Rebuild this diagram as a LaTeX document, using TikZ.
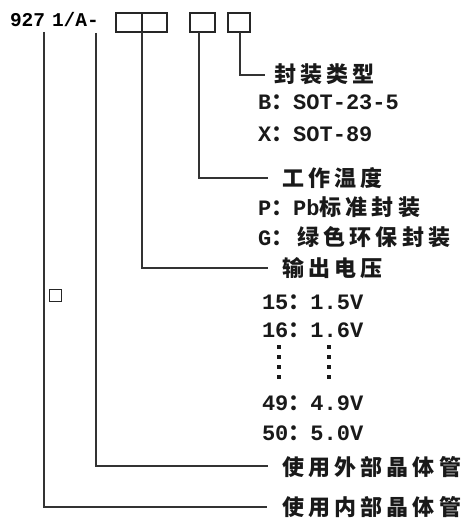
\documentclass[tikz,border=0pt]{standalone}
\usepackage{fontspec}
\setmainfont{Liberation Mono}
\newfontfamily\cjk{Noto Sans CJK SC}[LetterSpace=19]
\newcommand{\lat}{\fontsize{22}{24}\selectfont\bfseries}
\newcommand{\zh}[1]{{\cjk\fontsize{22}{24}\selectfont\bfseries #1}}
\begin{document}
\begin{tikzpicture}[x=1pt,y=-1pt,
  every node/.style={inner sep=0pt, outer sep=0pt},
  box/.style={draw=black!85, line width=1.2pt, minimum height=19pt},
  lab/.style={anchor=base west, text=black!90, font=\lat},
  conn/.style={draw=black!80, line width=1.3pt},
  dotc/.style={fill=black!90, rectangle, minimum size=3.6pt}]
\useasboundingbox (0,0) rectangle (467,521);
% header
\node[anchor=base west, font=\fontsize{19.5}{22}\selectfont\bfseries] (h1) at (10,27) {927};
\node[anchor=base west, font=\fontsize{19.5}{22}\selectfont\bfseries] (h2) at (52,27) {1/A-};
\node[box, minimum width=25.5pt] (b1) at (128.8,22.5) {};
\node[box, minimum width=24.5pt] (b2) at (154.8,22.5) {};
\node[box, minimum width=25pt] (b3) at (202.5,22.5) {};
\node[box, minimum width=22pt] (b4) at (239,22.5) {};
\node[box, minimum width=12pt, minimum height=12pt, line width=1pt] (sq) at (55.5,295.5) {};
% tops of connectors
\coordinate (t1) at (44,32);
\coordinate (t2) at (96,33);
\coordinate (t3) at (142,32);
\coordinate (t4) at (199,32);
\coordinate (t5) at (240,32);
% ends of connectors
\coordinate (e5) at (265,75);
\coordinate (e4) at (268,178);
\coordinate (e3) at (268,268);
\coordinate (e2) at (268,466);
\coordinate (e1) at (267,507);
\draw[conn] (t5) |- (e5);
\draw[conn] (t4) |- (e4);
\draw[conn] (t3) |- (e3);
\draw[conn] (t2) |- (e2);
\draw[conn] (t1) |- (e1);
% labels
\node[lab] (l1) at (274,83) {\zh{封装类型}};
\node[lab] (l2) at (258,110) {B\zh{：}SOT-23-5};
\node[lab] (l3) at (258,142) {X\zh{：}SOT-89};
\node[lab] (l4) at (282,186) {\zh{工作温度}};
\node[lab] (l5) at (258,215) {P\zh{：}Pb\zh{标准封装}};
\node[lab] (l6) at (258,245) {G\zh{：绿色环保封装}};
\node[lab] (l7) at (282,276) {\zh{输出电压}};
\node[lab] (l8) at (262,309) {15\zh{：}1.5V};
\node[lab] (l9) at (262,337) {16\zh{：}1.6V};
\node[lab] (l10) at (262,410) {49\zh{：}4.9V};
\node[lab] (l11) at (262,440) {50\zh{：}5.0V};
\node[lab] (l12) at (282,475) {\zh{使用外部晶体管}};
\node[lab] (l13) at (282,515) {\zh{使用内部晶体管}};
% vertical ellipsis
\foreach \yy in {347,357,367,377}{
  \node[dotc] at (279,\yy) {};
  \node[dotc] at (329,\yy) {};
}
\end{tikzpicture}
\end{document}
